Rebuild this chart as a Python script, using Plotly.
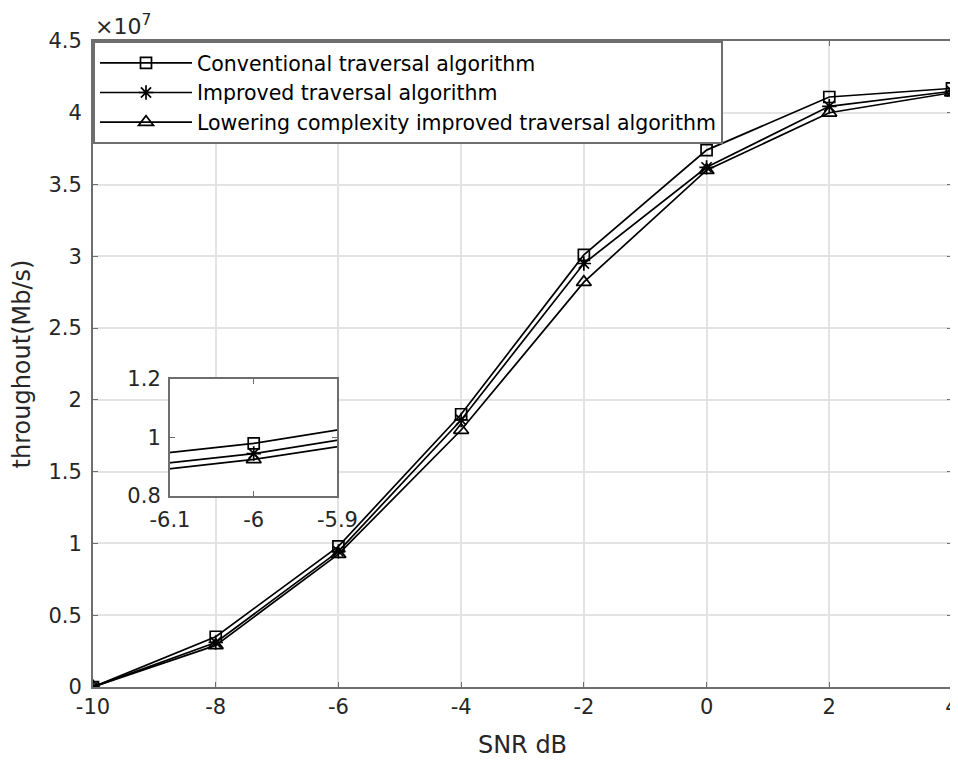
import plotly.graph_objects as go

# ---- data (throughput in units of 1e7 Mb/s) ----
snr = [-10, -8, -6, -4, -2, 0, 2, 4]
conventional = [0.0, 0.35, 0.98, 1.90, 3.01, 3.74, 4.11, 4.17]
improved = [0.0, 0.31, 0.945, 1.86, 2.95, 3.62, 4.045, 4.15]
lowering = [0.0, 0.29, 0.925, 1.79, 2.82, 3.60, 4.00, 4.14]
series_names = [
    "Conventional traversal algorithm",
    "Improved traversal algorithm",
    "Lowering complexity improved traversal algorithm",
]
series_values = [conventional, improved, lowering]
symbols = ["square-open", "asterisk-open", "triangle-up-open"]
marker_sizes = [11, 12, 13]

x_ticks = [-10, -8, -6, -4, -2, 0, 2, 4]
x_labels = ["-10", "-8", "-6", "-4", "-2", "0", "2", "4"]
y_ticks = [0, 0.5, 1, 1.5, 2, 2.5, 3, 3.5, 4, 4.5]
y_labels = ["0", "0.5", "1", "1.5", "2", "2.5", "3", "3.5", "4", "4.5"]
inset_x_range = [-6.1, -5.9]
inset_y_range = [0.8, 1.2]
inset_x_ticks = [-6.1, -6, -5.9]
inset_x_labels = ["-6.1", "-6", "-5.9"]
inset_y_ticks = [0.8, 1, 1.2]
inset_y_labels = ["0.8", "1", "1.2"]

FONT = "DejaVu Sans, Liberation Sans, sans-serif"
TICKC = "#262626"
AXC = "#6e6e6e"
GRIDC = "#e3e3e3"

fig = go.Figure()

for name, vals, sym, ms in zip(series_names, series_values, symbols, marker_sizes):
    fig.add_trace(go.Scatter(
        x=snr, y=vals, name=name, mode="lines+markers",
        line=dict(color="black", width=1.7),
        marker=dict(symbol=sym, size=ms, color="black", line=dict(color="black", width=1.7)),
        xaxis="x", yaxis="y",
    ))

for name, vals, sym, ms in zip(series_names, series_values, symbols, marker_sizes):
    fig.add_trace(go.Scatter(
        x=snr, y=vals, name=name, mode="lines+markers", showlegend=False,
        line=dict(color="black", width=1.7),
        marker=dict(symbol=sym, size=ms, color="black", line=dict(color="black", width=1.7)),
        xaxis="x2", yaxis="y2",
    ))

axis_common = dict(
    showline=True, linecolor=AXC, linewidth=2, mirror="ticks",
    ticks="inside", ticklen=5, tickcolor=AXC, tickwidth=1,
    zeroline=False, automargin=False, ticklabeloverflow="allow",
    tickfont=dict(family=FONT, size=21, color=TICKC),
)

# page body adds an 8px margin, so the figure is 8px smaller than the window
fig.update_layout(
    width=950, height=752,
    margin=dict(l=85, r=6, t=33, b=73, autoexpand=False),
    paper_bgcolor="white", plot_bgcolor="white",
    font=dict(family=FONT, color=TICKC),
    xaxis=dict(
        range=[-10, 4], tickvals=x_ticks, ticktext=x_labels,
        showgrid=True, gridcolor=GRIDC, gridwidth=1.5,
        title=dict(text="SNR dB", font=dict(family=FONT, size=24, color=TICKC), standoff=18),
        ticklabelstandoff=0,
        **axis_common,
    ),
    yaxis=dict(
        range=[0, 4.5], tickvals=y_ticks, ticktext=y_labels,
        showgrid=True, gridcolor=GRIDC, gridwidth=1.5,
        title=dict(text="throughout(Mb/s)", font=dict(family=FONT, size=24, color=TICKC), standoff=11),
        ticklabelstandoff=5,
        **axis_common,
    ),
    xaxis2=dict(
        domain=[0.0896, 0.2846], anchor="y2", range=inset_x_range,
        tickvals=inset_x_ticks, ticktext=inset_x_labels, showgrid=False,
        ticklabelstandoff=4,
        **axis_common,
    ),
    yaxis2=dict(
        domain=[0.2957, 0.4768], anchor="x2", range=inset_y_range,
        tickvals=inset_y_ticks, ticktext=inset_y_labels, showgrid=False,
        ticklabelstandoff=3,
        **axis_common,
    ),
    legend=dict(
        x=0, y=1, xanchor="left", yanchor="top",
        bgcolor="white", bordercolor=AXC, borderwidth=2,
        font=dict(family=FONT, size=20.5, color="black"),
        itemwidth=92, tracegroupgap=0,
    ),
    showlegend=True,
    shapes=[dict(
        type="rect", xref="x2", yref="y2",
        x0=inset_x_range[0], x1=inset_x_range[1], y0=inset_y_range[0], y1=inset_y_range[1],
        fillcolor="white", line=dict(width=0), layer="below",
    )],
    annotations=[dict(
        text="×10<sup>7</sup>", xref="paper", yref="paper", x=0, y=1,
        xanchor="left", yanchor="bottom", showarrow=False, yshift=0,
        font=dict(family=FONT, size=22, color=TICKC),
    )],
)

fig.write_html("out.html")
